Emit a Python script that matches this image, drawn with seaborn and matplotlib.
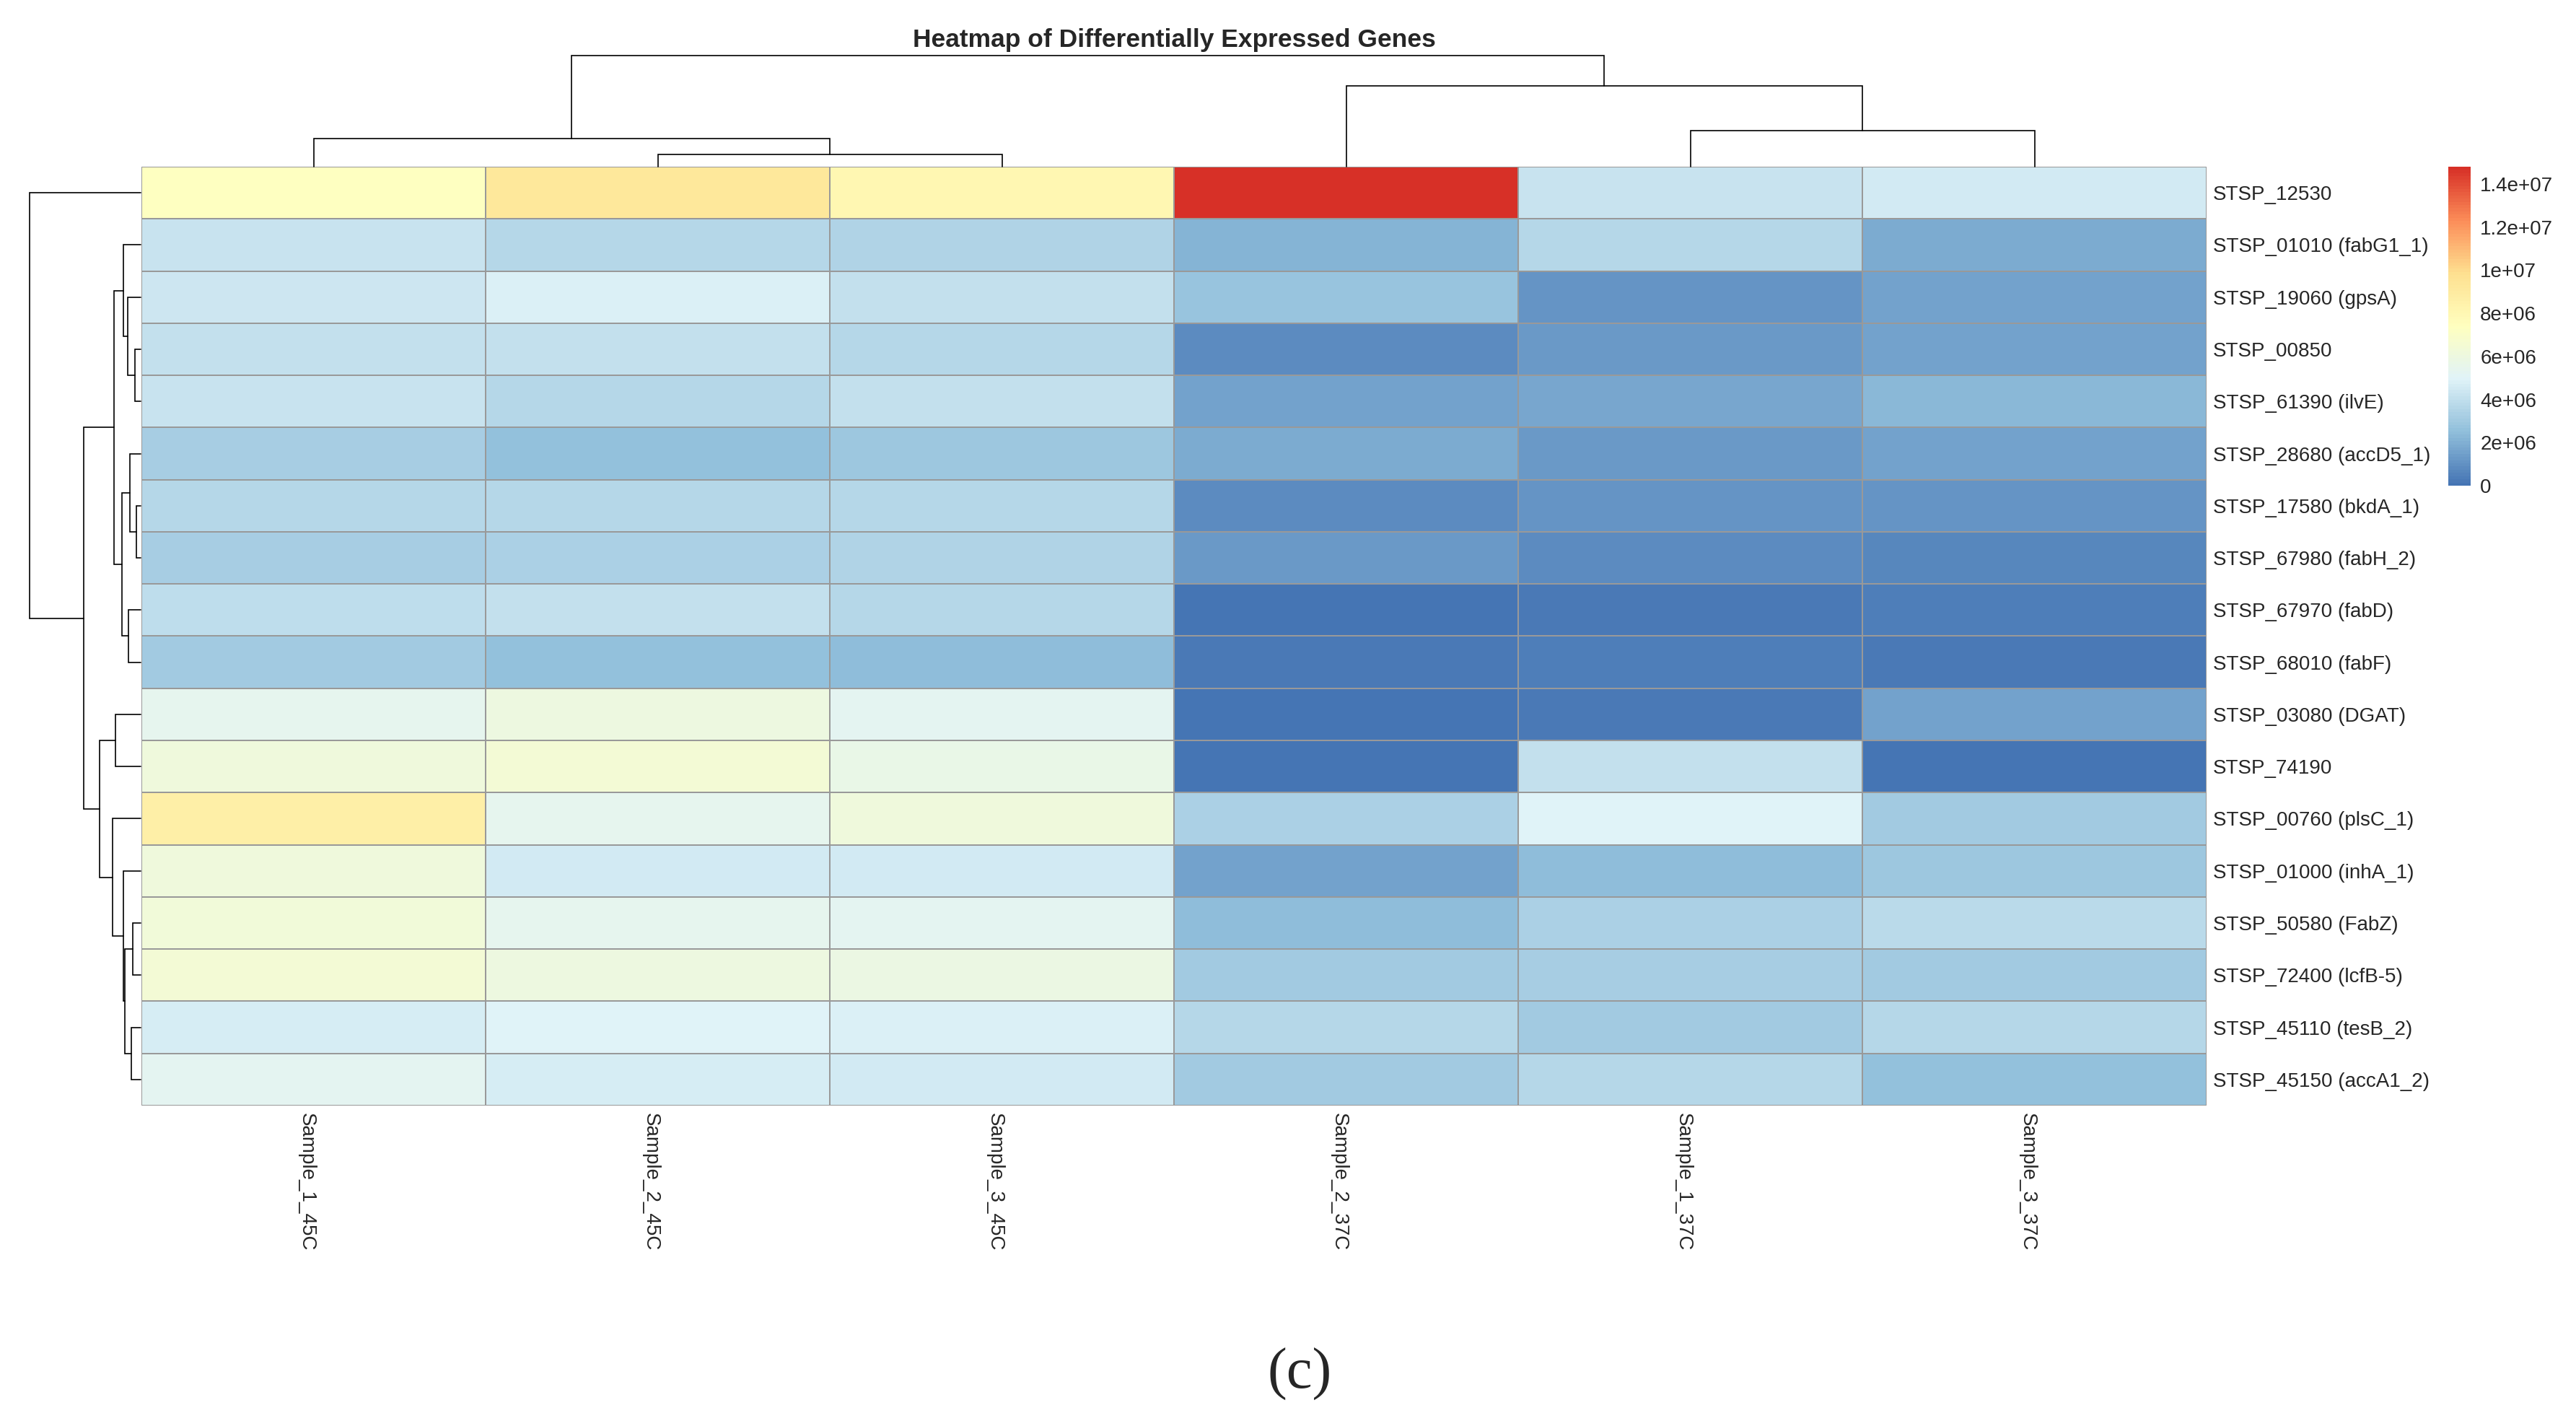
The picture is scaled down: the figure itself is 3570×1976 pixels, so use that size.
import numpy as np
import pandas as pd
import matplotlib
matplotlib.use("Agg")
import matplotlib.pyplot as plt
import matplotlib.transforms as mtransforms
from matplotlib.colors import LinearSegmentedColormap
import seaborn as sns

title = "Heatmap of Differentially Expressed Genes"
panel_tag = "(c)"

genes = [
    "STSP_12530", "STSP_01010 (fabG1_1)", "STSP_19060 (gpsA)", "STSP_00850",
    "STSP_61390 (ilvE)", "STSP_28680 (accD5_1)", "STSP_17580 (bkdA_1)",
    "STSP_67980 (fabH_2)", "STSP_67970 (fabD)", "STSP_68010 (fabF)",
    "STSP_03080 (DGAT)", "STSP_74190", "STSP_00760 (plsC_1)",
    "STSP_01000 (inhA_1)", "STSP_50580 (FabZ)", "STSP_72400 (lcfB-5)",
    "STSP_45110 (tesB_2)", "STSP_45150 (accA1_2)",
]
samples = ["Sample_1_45C", "Sample_2_45C", "Sample_3_45C",
           "Sample_2_37C", "Sample_1_37C", "Sample_3_37C"]

# expression values (x 1e6), one list per sample, rows follow `genes`
sample_1_45c = [7.3, 4.2, 4.38, 4.03, 4.2, 3.16, 3.63, 3.16, 3.85, 3.0,
                5.4, 6.2, 8.67, 6.1, 6.35, 6.45, 4.6, 5.3]
sample_2_45c = [9.2, 3.69, 4.78, 4.0, 3.69, 2.53, 3.56, 3.28, 4.03, 2.63,
                6.0, 6.45, 5.4, 4.47, 5.4, 6.05, 4.95, 4.6]
sample_3_45c = [8.0, 3.44, 4.03, 3.69, 4.03, 2.88, 3.56, 3.44, 3.69, 2.5,
                5.3, 5.65, 6.2, 4.56, 5.2, 5.8, 4.78, 4.47]
sample_2_37c = [14.8, 2.11, 2.72, 0.85, 1.5, 1.85, 0.85, 1.33, 0.03, 0.29,
                0.03, 0.02, 3.35, 1.62, 2.43, 3.03, 3.63, 3.03]
sample_1_37c = [4.22, 3.56, 1.14, 1.3, 1.66, 1.3, 1.04, 0.85, 0.26, 0.32,
                0.26, 4.0, 4.95, 2.4, 3.35, 3.22, 3.0, 3.56]
sample_3_37c = [4.56, 1.92, 1.62, 1.53, 2.27, 1.5, 1.04, 0.68, 0.32, 0.26,
                1.6, 0.0, 3.0, 2.84, 3.75, 3.0, 3.69, 2.63]

# hierarchical clustering merges: (node_a, node_b, height); leaves are in display order
row_merges = [(3, 4, 8.3), (2, 18, 17.7), (1, 19, 24.0), (6, 7, 6.0),
              (5, 21, 15.0), (8, 9, 17.3), (22, 23, 26.0), (20, 24, 37.3),
              (10, 11, 34.7), (14, 15, 10.7), (16, 17, 13.3), (27, 28, 22.3),
              (13, 29, 24.0), (12, 30, 39.3), (26, 31, 57.3), (25, 32, 79.0),
              (0, 33, 154.3)]
col_merges = [(1, 2, 17.0), (0, 6, 39.0), (4, 5, 50.0), (3, 8, 112.0),
              (7, 9, 154.0)]

legend_ticks = [0, 2e6, 4e6, 6e6, 8e6, 1e7, 1.2e7, 1.4e7]
legend_labels = ["0", "2e+06", "4e+06", "6e+06", "8e+06", "1e+07", "1.2e+07", "1.4e+07"]

# pheatmap default: rev(brewer.pal(7, "RdYlBu")) ramped to 100 colours
palette = ["#4575B4", "#91BFDB", "#E0F3F8", "#FFFFBF", "#FEE090", "#FC8D59", "#D73027"]

W, H = 3570, 1976


def px_axes(fig, x0, y0, x1, y1):
    """Add axes from pixel box (top-left origin)."""
    return fig.add_axes([x0 / W, 1 - y1 / H, (x1 - x0) / W, (y1 - y0) / H])


def draw_dendrogram(ax, merges, n_leaves, orientation):
    pos = {i: i + 0.5 for i in range(n_leaves)}
    height = {i: 0.0 for i in range(n_leaves)}
    for k, (a, b, h) in enumerate(merges):
        xs = [pos[a], pos[a], pos[b], pos[b]]
        ys = [height[a], h, h, height[b]]
        if orientation == "top":
            ax.plot(xs, ys, color="black", lw=1.2, clip_on=False,
                    solid_joinstyle="miter")
        else:
            ax.plot(ys, xs, color="black", lw=1.2, clip_on=False,
                    solid_joinstyle="miter")
        node = n_leaves + k
        pos[node] = (pos[a] + pos[b]) / 2
        height[node] = h
    top = max(m[2] for m in merges)
    if orientation == "top":
        ax.set_xlim(0, n_leaves)
        ax.set_ylim(0, top)
    else:
        ax.set_xlim(top, 0)
        ax.set_ylim(n_leaves, 0)
    ax.axis("off")


def main():
    sns.set_style("white")
    plt.rcParams["font.family"] = ["Liberation Sans", "DejaVu Sans"]

    df = pd.DataFrame({
        samples[0]: sample_1_45c, samples[1]: sample_2_45c,
        samples[2]: sample_3_45c, samples[3]: sample_2_37c,
        samples[4]: sample_1_37c, samples[5]: sample_3_37c,
    }, index=genes) * 1e6

    cmap = LinearSegmentedColormap.from_list("pheat", palette, N=100)

    fig = plt.figure(figsize=(W / 100, H / 100), dpi=100)
    ax_heat = px_axes(fig, 196, 231, 3058, 1532)
    ax_top = px_axes(fig, 196, 77, 3058, 231)
    ax_left = px_axes(fig, 41, 231, 195, 1532)
    ax_cbar = px_axes(fig, 3393, 231, 3424, 673)

    sns.heatmap(df, ax=ax_heat, cmap=cmap, vmin=0, vmax=df.values.max(),
                linewidths=1.2, linecolor="#999999", cbar_ax=ax_cbar,
                xticklabels=True, yticklabels=True)

    ax_heat.yaxis.tick_right()
    ax_heat.tick_params(axis="y", length=0, pad=6.5, labelsize=20,
                        labelrotation=0)
    ax_heat.tick_params(axis="x", length=0, pad=7, labelsize=20)
    shift = mtransforms.ScaledTranslation(-0.1, 0, fig.dpi_scale_trans)
    for lab in ax_heat.get_xticklabels():
        lab.set_rotation(270)
        lab.set_ha("center")
        lab.set_va("top")
        lab.set_transform(lab.get_transform() + shift)
    for lab in ax_heat.get_yticklabels():
        lab.set_va("center_baseline")
        lab.set_ha("left")
    ax_heat.set_xlabel("")
    ax_heat.set_ylabel("")

    cbar = ax_heat.collections[0].colorbar
    cbar.outline.set_visible(False)
    cbar.set_ticks(legend_ticks)
    cbar.set_ticklabels(legend_labels)
    ax_cbar.tick_params(length=0, pad=9.5, labelsize=20)
    for lab in ax_cbar.get_yticklabels():
        lab.set_va("center_baseline")

    draw_dendrogram(ax_top, col_merges, len(samples), "top")
    draw_dendrogram(ax_left, row_merges, len(genes), "left")

    fig.text(1627 / W, 1 - 65 / H, title, ha="center", va="baseline",
             fontsize=25.5, fontweight="bold")
    fig.text(1801 / W, 1 - 1904 / H, panel_tag, ha="center", va="center",
             fontsize=58, family="Liberation Serif")

    fig.savefig("out.png", dpi=100, facecolor="white")
    plt.close(fig)


if __name__ == "__main__":
    main()
